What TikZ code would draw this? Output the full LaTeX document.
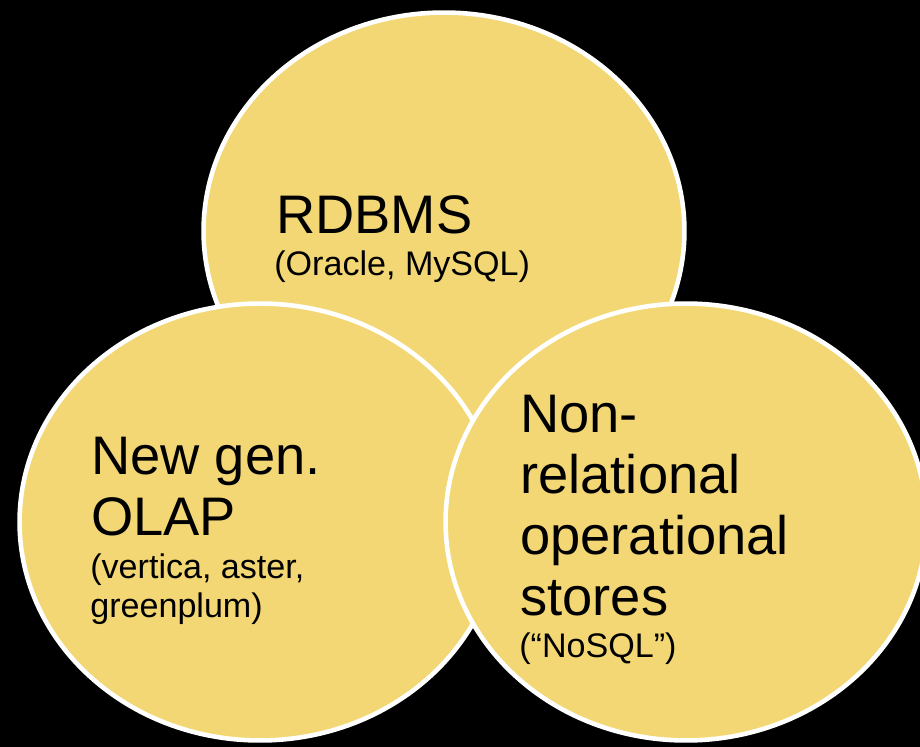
\documentclass[tikz,border=0pt]{standalone}
\usepackage{fontspec}
\setmainfont{Liberation Sans}
\usetikzlibrary{shapes.geometric}

\definecolor{blobyellow}{RGB}{243,215,116}

\tikzset{
  blob/.style={ellipse, draw=white, line width=2.6pt, fill=blobyellow,
    minimum width=9.62cm, minimum height=8.74cm, inner sep=0pt},
  head/.style={anchor=base west, align=left, inner sep=0pt,
    font=\fontsize{30.9}{34.6}\selectfont},
  sub/.style={anchor=base west, align=left, inner sep=0pt,
    font=\fontsize{19.4}{22.2}\selectfont},
}

\begin{document}
\begin{tikzpicture}[x=0.02cm, y=0.02cm]
	% page
	\fill [black] (0,0) rectangle (920,-747);
	\useasboundingbox (0,0) rectangle (920,-747);
	% the three stores
	\node [blob] (rdbms) at (444,-231) {};
	\node [blob] (olap) at (260,-522) {};
	\node [blob] (nosql) at (686,-522) {};
	% labels (base = last line)
	\node [head] (rdbmshead) at (276,-233) {RDBMS};
	\node [sub] (rdbmssub) at (274,-275) {(Oracle, MySQL)};
	\node [head] (olaphead) at (91,-535) {New gen.\\OLAP};
	\node [sub] (olapsub) at (90,-617) {(vertica, aster,\\greenplum)};
	\node [head] (nosqlhead) at (520,-615) {Non-\\relational\\operational\\stores};
	\node [sub] (nosqlsub) at (519,-657) {(“NoSQL”)};
\end{tikzpicture}
\end{document}
